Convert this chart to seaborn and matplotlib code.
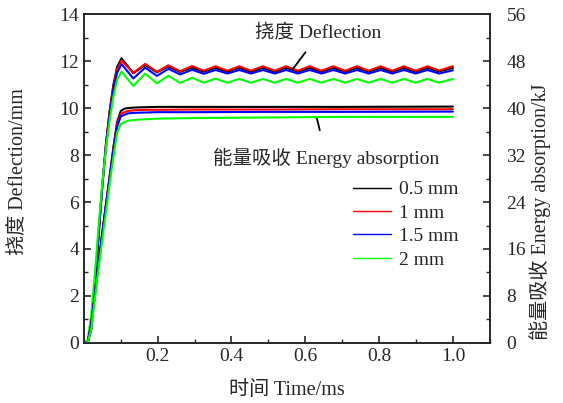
import matplotlib
matplotlib.use("Agg")
import matplotlib.pyplot as plt
from matplotlib.lines import Line2D
from matplotlib.ticker import MultipleLocator
import seaborn as sns
import pandas as pd

# ---------------- data ----------------
series = ["0.5 mm", "1 mm", "1.5 mm", "2 mm"]
colors = ["#000000", "#ff0000", "#0000ff", "#00ff00"]

# deflection (mm) time grid: rise, then successive peaks / troughs
defl_t = [0.0, 0.01, 0.02, 0.03, 0.04, 0.05, 0.06, 0.07, 0.08, 0.09,
          0.102, 0.134, 0.166, 0.198, 0.229, 0.261, 0.293, 0.325, 0.357, 0.389,
          0.421, 0.453, 0.485, 0.517, 0.548, 0.580, 0.612, 0.644, 0.676, 0.708,
          0.740, 0.772, 0.804, 0.836, 0.867, 0.899, 0.931, 0.963, 1.0]

defl_05 = [0, 0, 0.6, 2.4, 4.6, 6.7, 8.5, 9.9, 11.0, 11.75,
           12.12, 11.48, 11.83, 11.52, 11.77, 11.54, 11.72, 11.55, 11.71, 11.55,
           11.71, 11.55, 11.71, 11.55, 11.71, 11.55, 11.71, 11.55, 11.71, 11.55,
           11.71, 11.55, 11.71, 11.55, 11.71, 11.55, 11.71, 11.56, 11.71]
defl_10 = [0, 0, 0.6, 2.4, 4.6, 6.7, 8.5, 9.85, 10.9, 11.65,
           12.02, 11.50, 11.88, 11.54, 11.82, 11.57, 11.79, 11.59, 11.78, 11.59,
           11.78, 11.59, 11.78, 11.59, 11.78, 11.59, 11.78, 11.59, 11.78, 11.59,
           11.78, 11.59, 11.78, 11.59, 11.78, 11.59, 11.78, 11.60, 11.78]
defl_15 = [0, 0, 0.7, 2.5, 4.7, 6.7, 8.4, 9.75, 10.8, 11.5,
           11.87, 11.26, 11.72, 11.37, 11.67, 11.43, 11.63, 11.46, 11.62, 11.47,
           11.62, 11.47, 11.62, 11.47, 11.62, 11.47, 11.62, 11.47, 11.62, 11.47,
           11.62, 11.47, 11.62, 11.47, 11.62, 11.47, 11.62, 11.47, 11.61]
defl_20 = [0, 0.1, 1.2, 3.0, 5.0, 6.8, 8.3, 9.5, 10.5, 11.2,
           11.55, 10.94, 11.47, 11.05, 11.38, 11.07, 11.29, 11.08, 11.25, 11.08,
           11.24, 11.08, 11.24, 11.08, 11.24, 11.08, 11.24, 11.08, 11.24, 11.08,
           11.24, 11.08, 11.24, 11.08, 11.24, 11.08, 11.24, 11.08, 11.24]

# energy absorption (kJ)
ener_t = [0.0, 0.01, 0.02, 0.03, 0.04, 0.05, 0.06, 0.07, 0.08, 0.09,
          0.1, 0.11, 0.12, 0.14, 0.17, 0.2, 0.3, 0.5, 0.7, 1.0]
ener_05 = [0, 0, 3.2, 8.4, 13.6, 18.8, 23.6, 28.4, 33.4, 37.6,
           39.5, 39.9, 40.0, 40.1, 40.15, 40.2, 40.2, 40.2, 40.2, 40.25]
ener_10 = [0, 0, 3.2, 8.4, 13.6, 18.8, 23.6, 28.4, 33.0, 37.2,
           39.0, 39.3, 39.5, 39.65, 39.7, 39.7, 39.75, 39.75, 39.8, 39.8]
ener_15 = [0, 0, 3.2, 8.4, 13.6, 18.8, 23.6, 28.2, 32.8, 36.8,
           38.6, 38.85, 39.1, 39.2, 39.25, 39.3, 39.3, 39.35, 39.35, 39.4]
ener_20 = [0, 0, 2.4, 7.6, 12.8, 17.6, 22.4, 27.2, 31.6, 35.8,
           37.3, 37.6, 37.85, 38.0, 38.1, 38.2, 38.3, 38.4, 38.5, 38.5]

x_label = "时间 Time/ms"
yl_label = "挠度 Deflection/mm"
yr_label = "能量吸收 Energy absorption/kJ"
defl_note = "挠度 Deflection"
ener_note = "能量吸收 Energy absorption"

# ---------------- style ----------------
sns.set_style("ticks")
plt.rcParams["font.family"] = ["Liberation Serif", "Noto Sans CJK SC", "DejaVu Sans"]
plt.rcParams["axes.linewidth"] = 1.2
plt.rcParams["xtick.direction"] = "in"
plt.rcParams["ytick.direction"] = "in"

defl_df = pd.concat([pd.DataFrame({"t": defl_t, "v": v, "s": s})
                     for s, v in zip(series, [defl_05, defl_10, defl_15, defl_20])])
ener_df = pd.concat([pd.DataFrame({"t": ener_t, "v": v, "s": s})
                     for s, v in zip(series, [ener_05, ener_10, ener_15, ener_20])])
pal = dict(zip(series, colors))

fig = plt.figure(figsize=(5.63, 4.03), dpi=100)
ax = fig.add_axes([0.149, 0.149, 0.721, 0.816])
ax2 = ax.twinx()

sns.lineplot(data=defl_df, x="t", y="v", hue="s", palette=pal, ax=ax,
             legend=False, linewidth=1.5, sort=False, estimator=None)
sns.lineplot(data=ener_df, x="t", y="v", hue="s", palette=pal, ax=ax2,
             legend=False, linewidth=1.5, sort=False, estimator=None)

ax.set_xlim(0, 1.1)
ax.set_ylim(0, 14)
ax2.set_ylim(0, 56)
ax.xaxis.set_major_locator(MultipleLocator(0.2))
ax.xaxis.set_minor_locator(MultipleLocator(0.1))
ax.yaxis.set_major_locator(MultipleLocator(2))
ax.yaxis.set_minor_locator(MultipleLocator(1))
ax2.yaxis.set_major_locator(MultipleLocator(8))
ax2.yaxis.set_minor_locator(MultipleLocator(4))
ax.set_xticks([0.2, 0.4, 0.6, 0.8, 1.0])
ax.set_xticklabels(["0.2", "0.4", "0.6", "0.8", "1.0"])

for a in (ax, ax2):
    a.tick_params(which="major", length=5, width=1.2, labelsize=14)
    a.tick_params(which="minor", length=3, width=1.0)
    for sp in a.spines.values():
        sp.set_visible(True)
        sp.set_linewidth(1.2)
ax.tick_params(axis="both", which="both", top=False, right=False)
ax2.tick_params(axis="y", which="both", left=False, right=True)
ax2.tick_params(axis="y", which="major", pad=12)

ax.set_xlabel(x_label, fontsize=14.5)
ax.set_ylabel(yl_label, fontsize=14.5)
ax2.set_ylabel(yr_label, fontsize=14.5)
ax.xaxis.set_label_coords(0.5, -0.115)
ax.yaxis.set_label_coords(-0.14, 0.52)
ax2.yaxis.set_label_coords(1.098, 0.40)
ax.grid(False)
ax2.grid(False)

ax.text(0.635, 13.2, defl_note, fontsize=14, ha="center", va="center")
ax.annotate("", xy=(0.561, 11.55), xytext=(0.605, 12.47),
            arrowprops=dict(arrowstyle="-", color="black", lw=1.3))
ax.text(0.657, 7.9, ener_note, fontsize=14, ha="center", va="center")
ax.annotate("", xy=(0.641, 8.94), xytext=(0.629, 9.72),
            arrowprops=dict(arrowstyle="-", color="black", lw=1.3))

handles = [Line2D([], [], color=c, lw=1.0) for c in colors]
ax.legend(handles, series, loc="upper left", bbox_to_anchor=(0.645, 0.517),
          frameon=False, fontsize=14, handlelength=1.95, handletextpad=0.4,
          labelspacing=0.3, borderaxespad=0)

fig.savefig("out.png", dpi=100)
